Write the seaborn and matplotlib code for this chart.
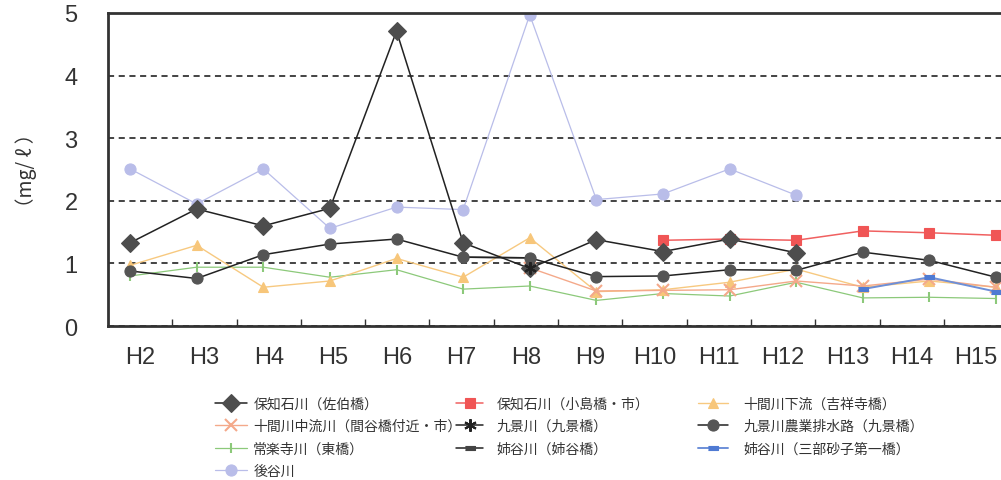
import numpy as np
import matplotlib.pyplot as plt
import seaborn as sns

sns.set_theme(style="white")
plt.rcParams['font.family'] = ['Noto Sans CJK JP', 'DejaVu Sans']

nan = np.nan
years = ["H2", "H3", "H4", "H5", "H6", "H7", "H8", "H9", "H10", "H11", "H12", "H13", "H14", "H15"]

# 各地点の値 (mg/ℓ)
saeki = [1.33, 1.87, 1.60, 1.88, 4.71, 1.33, 0.92, 1.38, 1.19, 1.39, 1.17, nan, nan, nan]
kojima = [nan] * 8 + [1.37, 1.39, 1.37, 1.52, 1.49, 1.45]
kisshoji = [0.97, 1.29, 0.62, 0.72, 1.08, 0.78, 1.41, 0.55, 0.58, 0.70, 0.91, 0.62, 0.72, 0.62]
mayabashi = [nan] * 6 + [0.93, 0.56, 0.57, 0.58, 0.72, 0.64, 0.75, 0.62]
kukei = [nan] * 6 + [0.92] + [nan] * 7
kukei_nogyo = [0.88, 0.76, 1.14, 1.31, 1.39, 1.10, 1.09, 0.79, 0.80, 0.90, 0.89, 1.18, 1.05, 0.78]
higashi = [0.80, 0.94, 0.94, 0.78, 0.90, 0.59, 0.64, 0.41, 0.52, 0.48, 0.70, 0.45, 0.46, 0.44]
aneya = [nan] * 5 + [1.10, 1.09] + [nan] * 7
sambu = [nan] * 11 + [0.59, 0.78, 0.55]
ushiro = [2.51, 1.95, 2.51, 1.56, 1.90, 1.86, 4.97, 2.02, 2.11, 2.51, 2.09, nan, nan, nan]

rect = [(-1.6, -0.7), (1.6, -0.7), (1.6, 0.7), (-1.6, 0.7)]

# (ラベル, データ, 線色, マーカー, サイズ, 塗り, 線幅, zorder)
series = [
    ("保知石川（佐伯橋）", saeki, "#222222", "D", 9, "#4d4d4d", 1.1, 5),
    ("保知石川（小島橋・市）", kojima, "#f06060", "s", 7, "#f05555", 1.1, 4),
    ("十間川下流（吉祥寺橋）", kisshoji, "#f7c980", "^", 7, "#f7c67a", 1.0, 3),
    ("十間川中流川（間谷橋付近・市）", mayabashi, "#f4a98a", "x", 9, "#f4a98a", 1.0, 3),
    ("九景川（九景橋）", kukei, "#222222", (6, 2, 0), 9, "#222222", 1.1, 6),
    ("九景川農業排水路（九景橋）", kukei_nogyo, "#222222", "o", 8, "#555555", 1.1, 5),
    ("常楽寺川（東橋）", higashi, "#8cc97a", "|", 7, "#8cc97a", 0.9, 2),
    ("姉谷川（姉谷橋）", aneya, "#222222", rect, 7, "#444444", 1.1, 4),
    ("姉谷川（三部砂子第一橋）", sambu, "#6d8fd8", rect, 7, "#4f7ad3", 1.4, 4),
    ("後谷川", ushiro, "#b9bde9", "o", 8, "#b9bde9", 0.9, 2),
]

fig = plt.figure(figsize=(10.01, 4.81), dpi=100)
ax = fig.add_axes([0.108, 0.32, 0.899, 0.651])

pos = np.arange(len(years))
handles = {}
for label, vals, color, marker, ms, mfc, lw, z in series:
    v = np.array(vals, dtype=float)
    ok = ~np.isnan(v)
    sns.lineplot(x=pos[ok], y=v[ok], ax=ax, color=color, marker=marker, markersize=ms,
                 markerfacecolor=mfc, markeredgecolor=mfc if marker not in ("x", "|") else color,
                 markeredgewidth=1.5 if marker in ("x", "|", (6, 2, 0)) else 0.8,
                 linewidth=lw, label=label, zorder=z, legend=False)
    handles[label] = ax.lines[-1]

# 元の図では目盛りラベルと点の間隔が少しずれている
step = 0.9655
ax.set_xlim(-0.33, 13.18)
ax.set_ylim(0, 5)
ax.set_yticks([0, 1, 2, 3, 4, 5])
ax.set_xticks(0.15 + step * pos)
ax.set_xticklabels(years)
ax.set_xticks(0.15 + step * (pos[:-1] + 0.5), minor=True)
ax.tick_params(axis="x", which="major", length=0, pad=14, labelsize=17, labelcolor="#333333")
ax.tick_params(axis="x", which="minor", bottom=True, direction="in", length=5, width=1, color="#333333")
ax.tick_params(axis="y", length=0, pad=22, labelsize=17, labelcolor="#333333")
for t in ax.get_xticklabels() + ax.get_yticklabels():
    t.set_fontfamily("Liberation Sans")

ax.set_axisbelow(True)
ax.yaxis.grid(True, color="#111111", linestyle=(0, (4, 3)), linewidth=1.1)
for s in ax.spines.values():
    s.set_color("#333333")
    s.set_linewidth(2)

ax.set_ylabel("（mg/ ℓ ）", fontsize=14, color="#333333", labelpad=20)
ax.set_xlabel("")

# 凡例は3列、列ごとに配置
columns = [([0, 3, 6, 9], 0.2148, 2.3, 0.45),
           ([1, 4, 7], 0.456, 1.9, 1.0),
           ([2, 5, 8], 0.697, 2.2, 1.1)]
for idx, x0, hl, tp in columns:
    labels = [series[i][0] for i in idx]
    fig.legend([handles[l] for l in labels], labels, ncol=1, loc="upper left",
               bbox_to_anchor=(x0, 0.173), frameon=False, fontsize=10,
               handlelength=hl, handletextpad=tp, labelspacing=0.6,
               borderpad=0, borderaxespad=0, labelcolor="#333333")

fig.savefig("out.png", dpi=100)
